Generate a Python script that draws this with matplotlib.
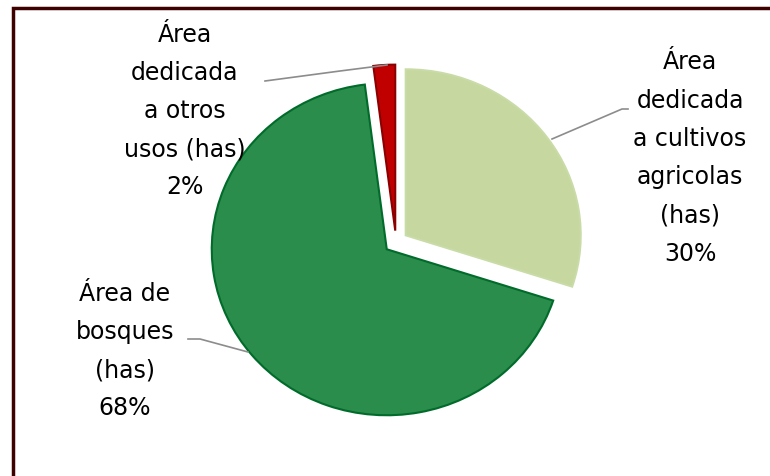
import matplotlib
matplotlib.use("Agg")
import matplotlib.pyplot as plt

# data
categories = ["Área dedicada a cultivos agricolas (has)",
              "Área de bosques (has)",
              "Área dedicada a otros usos (has)"]
shares = [30, 68, 2]
label_text = ["Área\ndedicada\na cultivos\nagricolas\n(has)\n30%",
              "Área de\nbosques\n(has)\n68%",
              "Área\ndedicada\na otros\nusos (has)\n2%"]
colors = ["#c6d7a0", "#2a8d4b", "#c00000"]
edges = ["#c9dba6", "#006b2a", "#8b0000"]

W, H = 770, 477
RX, RY = 175.0, 166.0
KY = RX / RY  # squash y so the pie comes out slightly wide, as in the picture


def px(x, y):
    # pixel position (top-left origin) -> data coords
    return x, (H - y) * KY


fig = plt.figure(figsize=(W / 100, H / 100), dpi=100)
ax = fig.add_axes([0, 0, 1, 1])

wedges, _ = ax.pie(shares, colors=colors, startangle=90, counterclock=False,
                   explode=[12, 12, 12], radius=RX, center=px(396, 243),
                   wedgeprops=dict(linewidth=1.5))
for w, ec in zip(wedges, edges):
    w.set_edgecolor(ec)
ax.set_xlim(0, W)
ax.set_ylim(0, H * KY)
ax.set_aspect("auto")
ax.axis("off")

# labels and leader lines
label_pos = [(690, 158), (125, 351), (185, 111)]
leaders = [[(552, 140), (622, 110), (628, 110)],
           [(248, 353), (200, 340), (188, 340)],
           [(387, 66), (340, 72), (265, 82)]]
for txt, (lx, ly), pts in zip(label_text, label_pos, leaders):
    ax.text(*px(lx, ly), txt, ha="center", va="center", multialignment="center",
            fontsize=17, linespacing=1.75, color="black", family="DejaVu Sans")
    xs, ys = zip(*[px(x, y) for x, y in pts])
    ax.plot(xs, ys, color="#8c8c8c", lw=1.2)

# dark frame on the left and top
ax.plot(*zip(px(13, 477), px(13, 9), px(770, 9)), color="#3f0000", lw=2.5,
        solid_joinstyle="miter")

fig.savefig("out.png", dpi=100)
